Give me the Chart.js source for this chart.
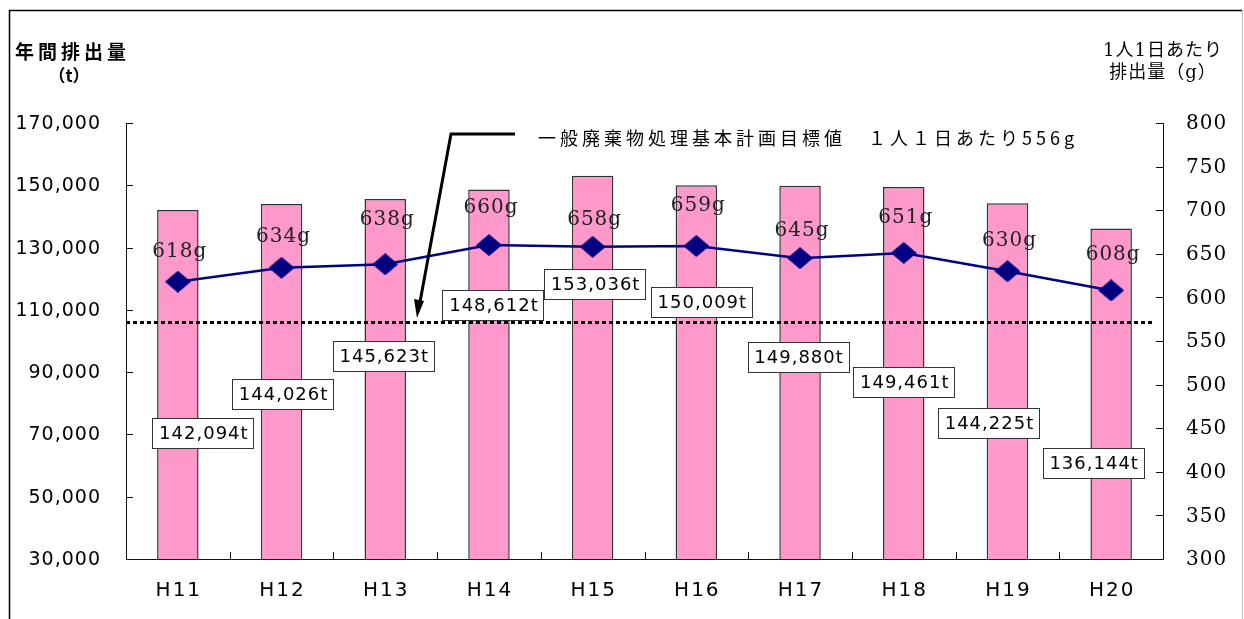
<!DOCTYPE html>
<html>
<head>
<meta charset="utf-8">
<script src="https://cdn.jsdelivr.net/npm/chart.js"></script>
<style>
  html, body { margin: 0; padding: 0; background: #fff; }
  #wrap { width: 1244px; height: 619px; }
</style>
</head>
<body>
<div id="wrap"><canvas id="chart" width="1244" height="619"></canvas></div>
<script>
// ---------------------------------------------------------------
//  Datos
// ---------------------------------------------------------------
const years = ["H11", "H12", "H13", "H14", "H15", "H16", "H17", "H18", "H19", "H20"];
const annualTonnes = [142094, 144026, 145623, 148612, 153036, 150009, 149880, 149461, 144225, 136144];
const gramsPerPerson = [618, 634, 638, 660, 658, 659, 645, 651, 630, 608];
const targetLineGrams = 572;   // nivel de la línea punteada (eje derecho)
const targetText = "一般廃棄物処理基本計画目標値　１人１日あたり556g";

// ---------------------------------------------------------------
//  Posiciones de las etiquetas (sólo maquetación)
// ---------------------------------------------------------------
const tonneLabelLevel = [70500, 83000, 95200, 111500, 118300, 112500, 94900, 86800, 73700, 60800];
const tonneLabelShiftX = [25, 1, -2, 4, 2, 5, -2, 0, -19, -18];
const gramLabelShiftY = [-30, -31, -44, -37, -27, -40, -27, -35, -30, -36];

// marcador en forma de rombo
const diamond = document.createElement("canvas");
diamond.width = 26;
diamond.height = 22;
(function () {
  const d = diamond.getContext("2d");
  d.fillStyle = "#000080";
  d.beginPath();
  d.moveTo(13, 0); d.lineTo(26, 11); d.lineTo(13, 22); d.lineTo(0, 11);
  d.closePath();
  d.fill();
})();

const SANS = '"DejaVu Sans", sans-serif';
const SERIF = '"DejaVu Serif", "Noto Sans CJK JP", serif';
const CJK = '"Noto Sans CJK JP", sans-serif';

function fmtT(v) { return v.toLocaleString("en-US") + "t"; }

// ---------------------------------------------------------------
//  Plugin de dibujo: ejes, etiquetas, línea objetivo, títulos
// ---------------------------------------------------------------
const decorations = {
  id: "decorations",
  afterDatasetsDraw(chart) {
    const { ctx, chartArea: a, scales } = chart;
    const x = scales.x, yL = scales.yL, yR = scales.yR;
    ctx.save();

    // línea punteada del objetivo
    const ty = Math.round(yR.getPixelForValue(targetLineGrams)) + 0.5;
    ctx.strokeStyle = "#000";
    ctx.lineWidth = 3;
    ctx.setLineDash([4, 3]);
    ctx.beginPath();
    ctx.moveTo(a.left, ty);
    ctx.lineTo(a.right - 8, ty);
    ctx.stroke();
    ctx.setLineDash([]);

    // etiquetas de las barras (toneladas)
    ctx.font = "18px " + SANS;
    ctx.letterSpacing = "1px";
    ctx.textAlign = "center";
    ctx.textBaseline = "middle";
    annualTonnes.forEach((v, i) => {
      const cx = x.getPixelForValue(i) + tonneLabelShiftX[i];
      const cy = Math.round(yL.getPixelForValue(tonneLabelLevel[i]));
      const txt = fmtT(v);
      const w = Math.round(ctx.measureText(txt).width) + 12;
      const h = 30;
      ctx.fillStyle = "#fff";
      ctx.fillRect(Math.round(cx - w / 2) + 0.5, cy - h / 2 + 0.5, w, h);
      ctx.strokeStyle = "#333";
      ctx.lineWidth = 1;
      ctx.strokeRect(Math.round(cx - w / 2) + 0.5, cy - h / 2 + 0.5, w, h);
      ctx.fillStyle = "#000";
      ctx.fillText(txt, cx + 1, cy + 1);
    });

    // etiquetas de la línea (gramos)
    ctx.font = "20px " + SERIF;
    ctx.letterSpacing = "1px";
    ctx.fillStyle = "#222";
    gramsPerPerson.forEach((v, i) => {
      const px = x.getPixelForValue(i) + 2;
      const py = yR.getPixelForValue(v) + gramLabelShiftY[i];
      ctx.fillText(v + "g", px, py);
    });

    // flecha de la anotación
    ctx.strokeStyle = "#000";
    ctx.lineWidth = 3;
    ctx.beginPath();
    ctx.moveTo(515, 134);
    ctx.lineTo(451, 134);
    ctx.lineTo(420, 302);
    ctx.stroke();
    ctx.fillStyle = "#000";
    ctx.beginPath();
    ctx.moveTo(417, 318);
    ctx.lineTo(414, 299);
    ctx.lineTo(424, 301);
    ctx.closePath();
    ctx.fill();

    ctx.font = "18px " + CJK;
    ctx.letterSpacing = "4px";
    ctx.textAlign = "left";
    ctx.fillStyle = "#000";
    ctx.fillText(targetText, 538, 138);

    // ejes y marcas interiores
    ctx.letterSpacing = "0px";
    ctx.strokeStyle = "#111";
    ctx.lineWidth = 1;
    ctx.beginPath();
    ctx.moveTo(a.left + 0.5, a.top);
    ctx.lineTo(a.left + 0.5, a.bottom + 0.5);
    ctx.lineTo(a.right + 0.5, a.bottom + 0.5);
    ctx.lineTo(a.right + 0.5, a.top);
    yL.ticks.forEach(t => {
      const yy = Math.round(yL.getPixelForValue(t.value)) + 0.5;
      ctx.moveTo(a.left, yy); ctx.lineTo(a.left + 7, yy);
    });
    yR.ticks.forEach(t => {
      const yy = Math.round(yR.getPixelForValue(t.value)) + 0.5;
      ctx.moveTo(a.right - 7, yy); ctx.lineTo(a.right + 1, yy);
    });
    const cw = (a.right - a.left) / years.length;
    for (let i = 1; i < years.length; i++) {
      const xx = Math.round(a.left + i * cw) + 0.5;
      ctx.moveTo(xx, a.bottom); ctx.lineTo(xx, a.bottom - 7);
    }
    ctx.stroke();

    // rótulos de los ejes
    ctx.fillStyle = "#000";
    ctx.font = "19px " + SANS;
    ctx.letterSpacing = "1px";
    ctx.textAlign = "right";
    yL.ticks.forEach(t => {
      ctx.fillText(t.value.toLocaleString("en-US"), 101, yL.getPixelForValue(t.value) + 1);
    });
    ctx.font = "20px " + SERIF;
    ctx.textAlign = "left";
    yR.ticks.forEach(t => {
      ctx.fillText(String(t.value), 1186, yR.getPixelForValue(t.value) + 1);
    });
    ctx.font = "20px " + SANS;
    ctx.letterSpacing = "2px";
    ctx.textAlign = "center";
    years.forEach((lab, i) => {
      ctx.fillText(lab, x.getPixelForValue(i) + 1, 591);
    });

    // títulos de los ejes
    ctx.letterSpacing = "4px";
    ctx.font = "bold 19px " + CJK;
    ctx.textAlign = "left";
    ctx.fillText("年間排出量", 15, 52);
    ctx.letterSpacing = "0px";
    ctx.textAlign = "center";
    ctx.font = "bold 17px " + CJK;
    ctx.fillText("（t）", 69, 76);

    ctx.font = "18px " + SERIF;
    ctx.letterSpacing = "1px";
    ctx.fillText("1人1日あたり", 1163, 51);
    ctx.fillText("排出量（g）", 1163, 73);

    // marco exterior
    ctx.letterSpacing = "0px";
    ctx.strokeStyle = "#000";
    ctx.lineWidth = 1.5;
    ctx.beginPath();
    ctx.moveTo(9.5, 640);
    ctx.lineTo(9.5, 10.5);
    ctx.lineTo(1242, 10.5);
    ctx.stroke();
    ctx.strokeStyle = "#bbb";
    ctx.lineWidth = 1;
    ctx.beginPath();
    ctx.moveTo(1242.5, 10);
    ctx.lineTo(1242.5, 640);
    ctx.stroke();

    ctx.restore();
  }
};

// ---------------------------------------------------------------
//  Gráfico
// ---------------------------------------------------------------
new Chart(document.getElementById("chart").getContext("2d"), {
  data: {
    labels: years,
    datasets: [
      {
        type: "line",
        label: "1人1日あたり排出量",
        data: gramsPerPerson,
        yAxisID: "yR",
        borderColor: "#000080",
        borderWidth: 2.5,
        pointStyle: diamond,
        pointRadius: 11,
        tension: 0,
        order: 0
      },
      {
        type: "bar",
        label: "年間排出量",
        data: annualTonnes,
        yAxisID: "yL",
        backgroundColor: "#ff99cc",
        borderColor: "#333333",
        borderWidth: 1.5,
        barPercentage: 0.4,
        categoryPercentage: 1,
        order: 1
      }
    ]
  },
  options: {
    responsive: false,
    devicePixelRatio: 1,
    animation: false,
    layout: { padding: { top: 123, left: 0, right: 0, bottom: 0 } },
    plugins: { legend: { display: false }, tooltip: { enabled: false } },
    scales: {
      x: {
        grid: { display: false, drawTicks: false },
        border: { display: false },
        ticks: { display: false },
        afterFit(s) { s.height = 60; }
      },
      yL: {
        position: "left",
        min: 30000,
        max: 170000,
        ticks: { display: false, stepSize: 20000 },
        grid: { display: false, drawTicks: false },
        border: { display: false },
        afterFit(s) { s.width = 126; }
      },
      yR: {
        position: "right",
        min: 300,
        max: 800,
        ticks: { display: false, stepSize: 50 },
        grid: { display: false, drawTicks: false },
        border: { display: false },
        afterFit(s) { s.width = 81; }
      }
    }
  },
  plugins: [decorations]
});
</script>
</body>
</html>
